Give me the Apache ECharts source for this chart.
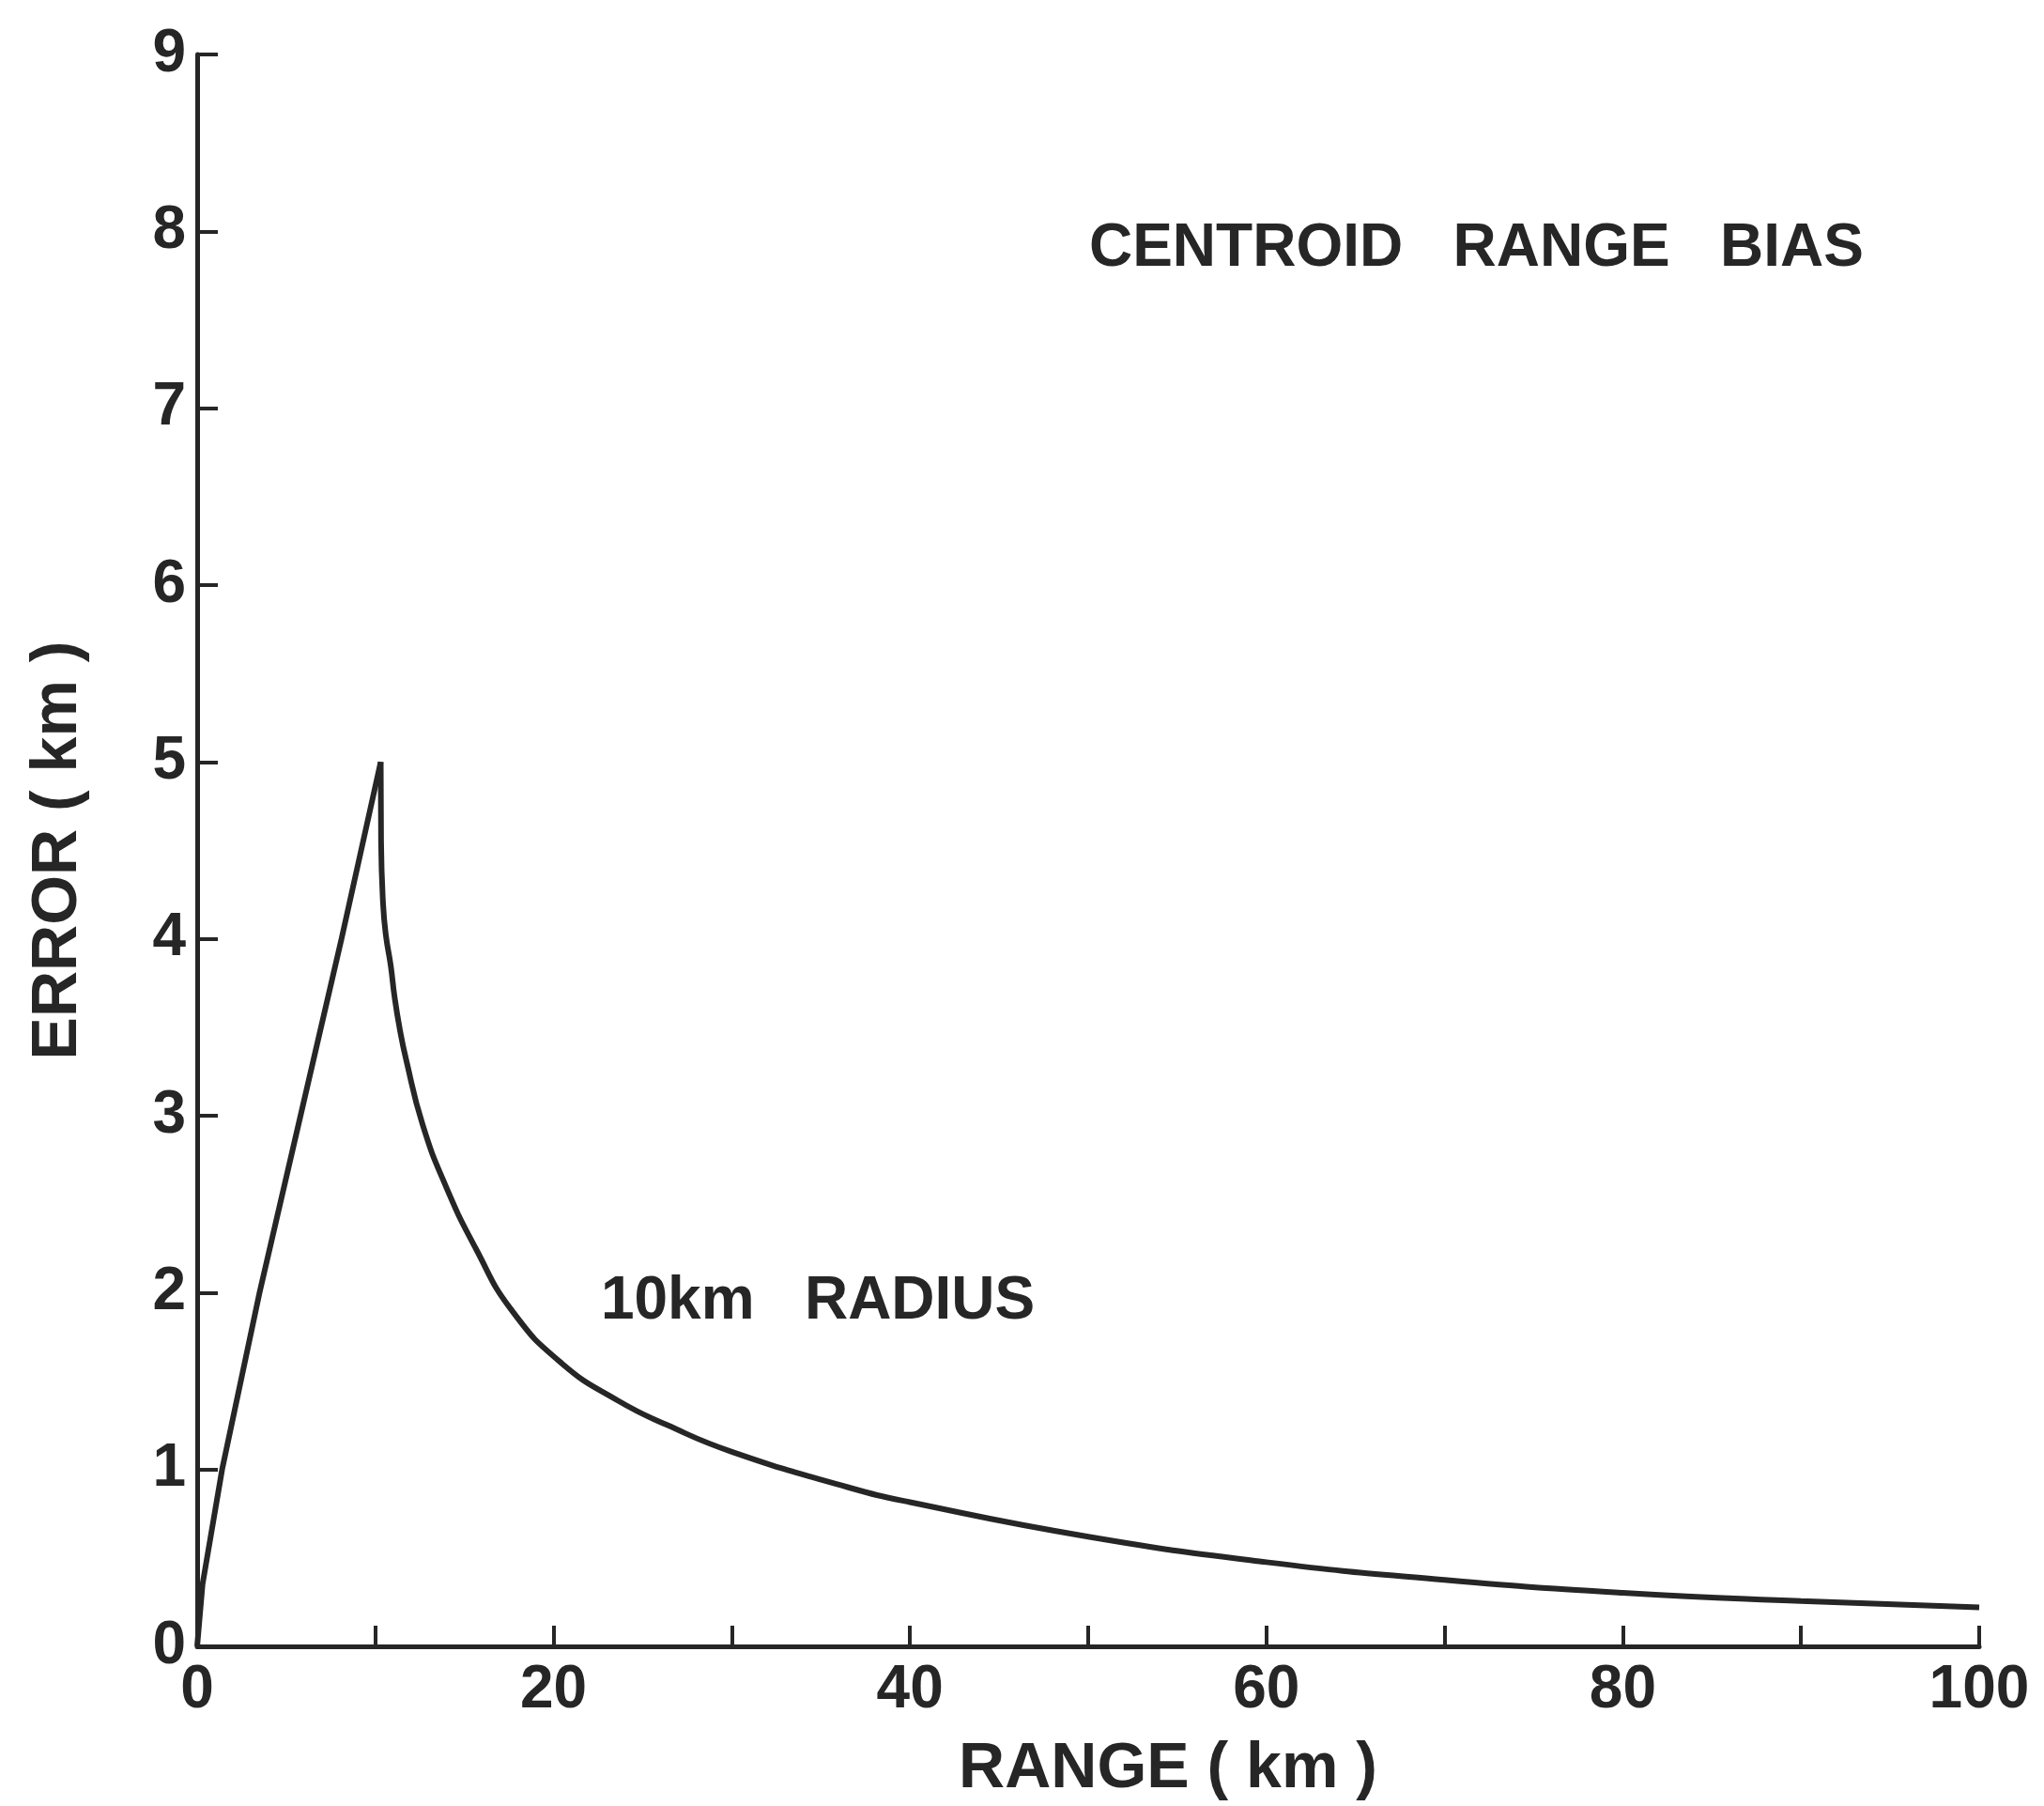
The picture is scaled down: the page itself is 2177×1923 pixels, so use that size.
<!DOCTYPE html>
<html>
<head>
<meta charset="utf-8">
<script src="https://cdn.jsdelivr.net/npm/echarts@6/dist/echarts.min.js"></script>
<style>
  html, body { margin: 0; padding: 0; background: #ffffff; }
  #chart { width: 2177px; height: 1923px; }
</style>
</head>
<body>
<div id="chart"></div>
<script>
// ---- data ----
const riseRange = [0, 0.3, 1.4, 3.5, 5.8, 8.1, 10.3];
const riseError = [0, 0.35, 1.0, 2.0, 3.0, 4.0, 5.0];
const fallRange = [10.3, 10.32, 10.43, 10.59, 10.86, 11.08, 11.37, 11.72, 12.65, 13.96, 15.63, 17.65, 20.46, 23.6, 26.4, 30, 36.5, 40, 50, 60, 70, 80, 90, 100];
const fallError = [5.0, 4.55, 4.2, 4.02, 3.85, 3.67, 3.49, 3.32, 2.95, 2.6, 2.25, 1.9, 1.6, 1.39, 1.25, 1.1, 0.9, 0.815, 0.62, 0.476, 0.376, 0.303, 0.256, 0.22];
const xTickLabels = [0, 20, 40, 60, 80, 100];
const yTickLabels = [0, 1, 2, 3, 4, 5, 6, 7, 8, 9];
const xAxisName = 'RANGE ( km )';
const yAxisName = 'ERROR ( km )';
const titleText = 'CENTROID   RANGE   BIAS';
const curveLabel = '10km   RADIUS';
const titleAnchor = [50.05, 7.9];
const curveLabelAnchor = [22.65, 1.945];

const ink = '#262626';
const font = '"Liberation Sans", Arial, sans-serif';

const chart = echarts.init(document.getElementById('chart'), null, { renderer: 'canvas' });

const axisCommon = {
  type: 'value',
  splitLine: { show: false },
  axisLine: { show: true, lineStyle: { color: ink, width: 5 } },
  axisTick: { show: true, inside: true, length: 22, lineStyle: { color: ink, width: 4 } },
  nameTextStyle: { color: ink, fontFamily: font, fontWeight: 'bold', fontSize: 68 }
};

chart.setOption({
  backgroundColor: '#ffffff',
  animation: false,
  grid: { left: 210, right: 69, top: 58, bottom: 162, containLabel: false },
  xAxis: Object.assign({}, axisCommon, {
    min: 0, max: 100, interval: 10,
    name: xAxisName, nameLocation: 'middle', nameGap: 97,
    nameTextStyle: Object.assign({}, axisCommon.nameTextStyle, { padding: [0, 0, 0, 170] }),
    axisLabel: {
      show: true, margin: 15, color: ink, fontFamily: font, fontWeight: 'bold', fontSize: 64,
      showMinLabel: true, showMaxLabel: true,
      formatter: v => xTickLabels.indexOf(v) >= 0 ? String(v) : ''
    }
  }),
  yAxis: Object.assign({}, axisCommon, {
    min: 0, max: 9, interval: 1,
    name: yAxisName, nameLocation: 'middle', nameGap: 114,
    axisLabel: {
      show: true, margin: 12, color: ink, fontFamily: font, fontWeight: 'bold', fontSize: 64,
      showMinLabel: true, showMaxLabel: true,
      formatter: v => yTickLabels.indexOf(v) >= 0 ? String(v) : ''
    }
  }),
  series: [
    {
      type: 'line', name: 'rise', showSymbol: false, smooth: false,
      lineStyle: { color: ink, width: 6, join: 'miter' },
      data: riseRange.map((r, i) => [r, riseError[i]])
    },
    {
      type: 'line', name: 'fall', showSymbol: false, smooth: 0.5,
      lineStyle: { color: ink, width: 6 },
      data: fallRange.map((r, i) => [r, fallError[i]])
    }
  ]
});

const p1 = chart.convertToPixel({ gridIndex: 0 }, titleAnchor);
const p2 = chart.convertToPixel({ gridIndex: 0 }, curveLabelAnchor);
chart.setOption({
  graphic: [
    { type: 'text', left: p1[0], top: p1[1] - 32, style: { text: titleText, fill: ink, font: 'bold 64px ' + font } },
    { type: 'text', left: p2[0], top: p2[1] - 32, style: { text: curveLabel, fill: ink, font: 'bold 64px ' + font } }
  ]
});
</script>
</body>
</html>
